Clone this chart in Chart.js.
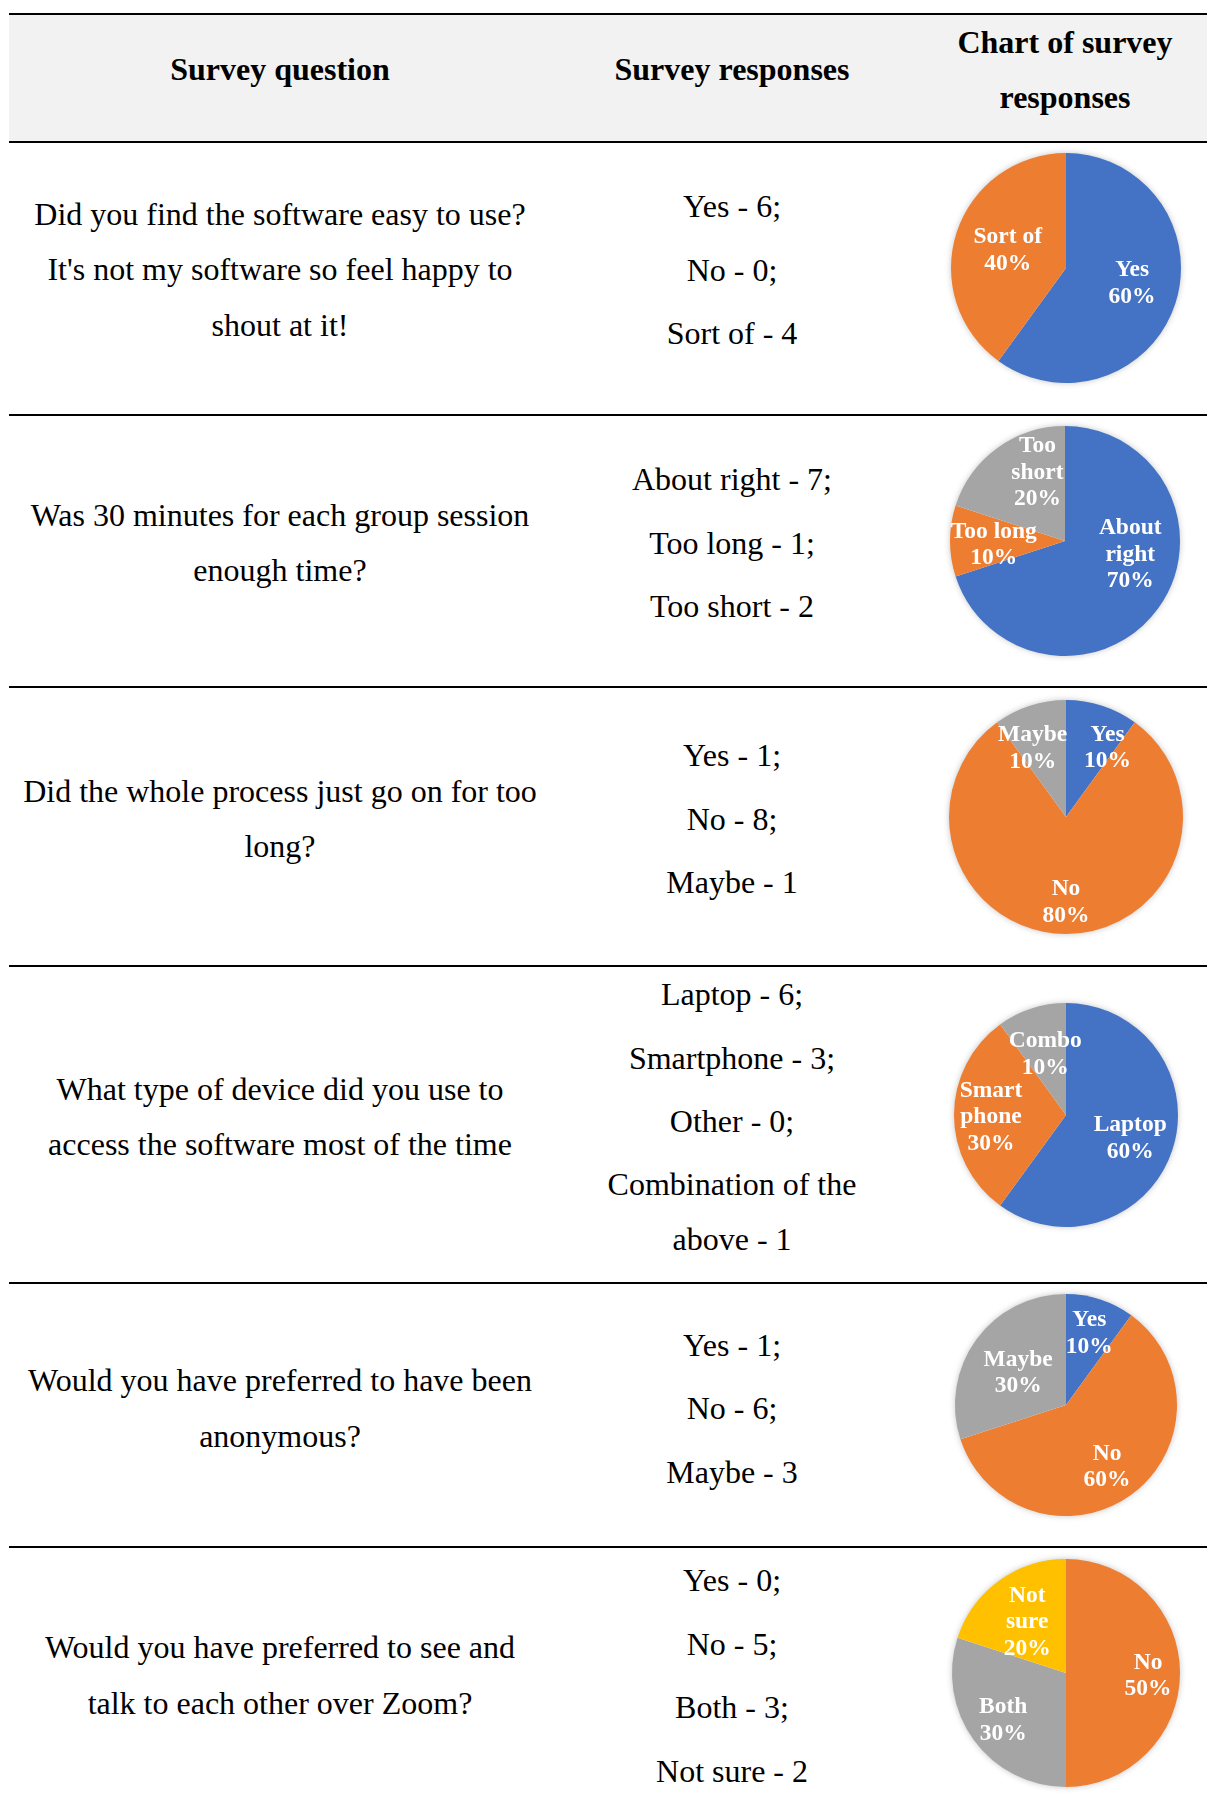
<!DOCTYPE html>
<html>
<head>
<meta charset="utf-8">
<script src="https://cdn.jsdelivr.net/npm/chart.js@4.4.0/dist/chart.umd.min.js"></script>
<style>
  html, body { margin: 0; padding: 0; background: #ffffff; }
  body { width: 1207px; height: 1810px; position: relative; overflow: hidden;
         font-family: "Liberation Serif", "Times New Roman", serif; color: #000; }
  .hdr-bg { position: absolute; left: 9px; top: 14px; width: 1198px; height: 128px; background: #f2f2f2; }
  .rule { position: absolute; left: 9px; width: 1198px; height: 2px; background: #000; }
  .t { position: absolute; white-space: nowrap; transform: translate(-50%, -50%);
       font-size: 32px; line-height: 1; }
  .b { font-weight: bold; }
  canvas { position: absolute; }
</style>
</head>
<body>
<div class="hdr-bg"></div>
<script>
// ---------------- DATA ----------------
const headerQuestion = "Survey question";
const headerResponses = "Survey responses";
const headerChart = ["Chart of survey", "responses"];

const questions = [
  ["Did you find the software easy to use?", "It's not my software so feel happy to", "shout at it!"],
  ["Was 30 minutes for each group session", "enough time?"],
  ["Did the whole process just go on for too", "long?"],
  ["What type of device did you use to", "access the software most of the time"],
  ["Would you have preferred to have been", "anonymous?"],
  ["Would you have preferred to see and", "talk to each other over Zoom?"]
];

const responses = [
  ["Yes - 6;", "No - 0;", "Sort of - 4"],
  ["About right - 7;", "Too long - 1;", "Too short - 2"],
  ["Yes - 1;", "No - 8;", "Maybe - 1"],
  ["Laptop - 6;", "Smartphone - 3;", "Other - 0;", "Combination of the", "above - 1"],
  ["Yes - 1;", "No - 6;", "Maybe - 3"],
  ["Yes - 0;", "No - 5;", "Both - 3;", "Not sure - 2"]
];

const pie1Labels = ["Yes", "Sort of"];
const pie1Values = [6, 4];
const pie2Labels = ["About right", "Too long", "Too short"];
const pie2Values = [7, 1, 2];
const pie3Labels = ["Yes", "No", "Maybe"];
const pie3Values = [1, 8, 1];
const pie4Labels = ["Laptop", "Smartphone", "Combo"];
const pie4Values = [6, 3, 1];
const pie5Labels = ["Yes", "No", "Maybe"];
const pie5Values = [1, 6, 3];
const pie6Labels = ["Yes", "No", "Both", "Not sure"];
const pie6Values = [0, 5, 3, 2];

// ---------------- STYLE / LAYOUT ----------------
const BLUE = "#4472c4", ORANGE = "#ed7d31", GRAY = "#a5a5a5", YELLOW = "#ffc000";
const rules = [14, 142, 415, 687, 966, 1283, 1547];
const qX = 280, rX = 732;
const qY = [[214, 269, 324.5], [515, 570], [791, 846], [1088.5, 1144], [1380, 1435.5], [1647, 1702.5]];
const rY = [[205.5, 269.5, 333], [479, 542.5, 606], [755, 818.5, 882], [994, 1057.5, 1121, 1184, 1238.5],
            [1344.5, 1408, 1471.5], [1580, 1643.5, 1707, 1770.5]];

const pieSpecs = [
  { labels: pie1Labels, values: pie1Values, colors: [BLUE, ORANGE], cx: 1066, cy: 268, r: 115,
    wrap: ["Yes", "Sort of"], place: [[0.59, -5], [0.53, -1]] },
  { labels: pie2Labels, values: pie2Values, colors: [BLUE, ORANGE, GRAY], cx: 1065, cy: 541, r: 115,
    wrap: ["About\nright", "Too long", "Too\nshort"], place: [[0.58, -24], [0.62, -3], [0.64, 14]] },
  { labels: pie3Labels, values: pie3Values, colors: [BLUE, ORANGE, GRAY], cx: 1066, cy: 817, r: 117,
    wrap: ["Yes", "No", "Maybe"], place: [[0.69, 13], [0.73, 0], [0.65, -8]] },
  { labels: pie4Labels, values: pie4Values, colors: [BLUE, ORANGE, GRAY], cx: 1066, cy: 1115, r: 112,
    wrap: ["Laptop", "Smart\nphone", "Combo"], place: [[0.61, 2], [0.67, -1.5], [0.57, -1]] },
  { labels: pie5Labels, values: pie5Values, colors: [BLUE, ORANGE, GRAY], cx: 1066, cy: 1405, r: 111,
    wrap: ["Yes", "No", "Maybe"], place: [[0.68, 0], [0.67, 2.5], [0.52, -2]] },
  { labels: pie6Labels, values: pie6Values, colors: [BLUE, ORANGE, GRAY, YELLOW], cx: 1066, cy: 1673, r: 114,
    wrap: ["Yes", "No", "Both", "Not\nsure"], place: [[0.5, 0], [0.72, 2], [0.69, -1], [0.56, -1.4]] }
];

// ---------------- TABLE TEXT ----------------
function addText(txt, x, y, bold) {
  const d = document.createElement("div");
  d.className = "t" + (bold ? " b" : "");
  d.textContent = txt;
  d.style.left = x + "px";
  d.style.top = y + "px";
  document.body.appendChild(d);
}
rules.forEach(y => {
  const d = document.createElement("div");
  d.className = "rule";
  d.style.top = (y - 1) + "px";
  document.body.appendChild(d);
});
addText(headerQuestion, qX, 68.5, true);
addText(headerResponses, rX, 68.5, true);
addText(headerChart[0], 1065, 41.5, true);
addText(headerChart[1], 1065, 96.5, true);
questions.forEach((lines, i) => lines.forEach((t, k) => addText(t, qX, qY[i][k], false)));
responses.forEach((lines, i) => lines.forEach((t, k) => addText(t, rX, rY[i][k], false)));

// ---------------- PIE LABEL PLUGIN ----------------
const sliceLabels = {
  id: "sliceLabels",
  beforeDatasetsDraw(chart) {
    const meta = chart.getDatasetMeta(0);
    const a = meta.data[0];
    if (!a) return;
    const p = a.getProps(["x", "y", "outerRadius"], true);
    const ctx = chart.ctx;
    ctx.save();
    ctx.shadowColor = "rgba(0,0,0,0.30)";
    ctx.shadowBlur = 7;
    ctx.fillStyle = "#ffffff";
    ctx.beginPath();
    ctx.arc(p.x, p.y, p.outerRadius - 1, 0, Math.PI * 2);
    ctx.fill();
    ctx.restore();
  },
  afterDatasetsDraw(chart, args, opts) {
    const ds = chart.data.datasets[0];
    const total = ds.data.reduce((s, v) => s + v, 0);
    const meta = chart.getDatasetMeta(0);
    const ctx = chart.ctx;
    ctx.save();
    ctx.font = 'bold 23.5px "Liberation Serif", "Times New Roman", serif';
    ctx.fillStyle = "#ffffff";
    ctx.textAlign = "center";
    ctx.textBaseline = "middle";
    meta.data.forEach((arc, i) => {
      const v = ds.data[i];
      if (!v) return;
      const p = arc.getProps(["x", "y", "startAngle", "endAngle", "outerRadius"], true);
      const frac = opts.place[i][0], nudge = opts.place[i][1];
      const ang = (p.startAngle + p.endAngle) / 2 + nudge * Math.PI / 180;
      const lx = p.x + Math.cos(ang) * p.outerRadius * frac;
      const ly = p.y + Math.sin(ang) * p.outerRadius * frac;
      const lines = opts.wrap[i].split("\n").concat([Math.round(v / total * 100) + "%"]);
      const lh = 26.5;
      lines.forEach((t, k) => ctx.fillText(t, lx, ly + (k - (lines.length - 1) / 2) * lh));
    });
    ctx.restore();
  }
};

// ---------------- PIES ----------------
const SIZE = 270;
pieSpecs.forEach(spec => {
  const c = document.createElement("canvas");
  c.width = SIZE; c.height = SIZE;
  c.style.left = (spec.cx - SIZE / 2) + "px";
  c.style.top = (spec.cy - SIZE / 2) + "px";
  c.style.width = SIZE + "px"; c.style.height = SIZE + "px";
  document.body.appendChild(c);
  new Chart(c, {
    type: "pie",
    data: {
      labels: spec.labels,
      datasets: [{ data: spec.values, backgroundColor: spec.colors, borderWidth: 0, radius: spec.r }]
    },
    options: {
      responsive: false,
      animation: false,
      devicePixelRatio: 1,
      layout: { padding: 0 },
      plugins: {
        legend: { display: false },
        tooltip: { enabled: false },
        sliceLabels: { wrap: spec.wrap, place: spec.place }
      }
    },
    plugins: [sliceLabels]
  });
});
</script>
</body>
</html>
